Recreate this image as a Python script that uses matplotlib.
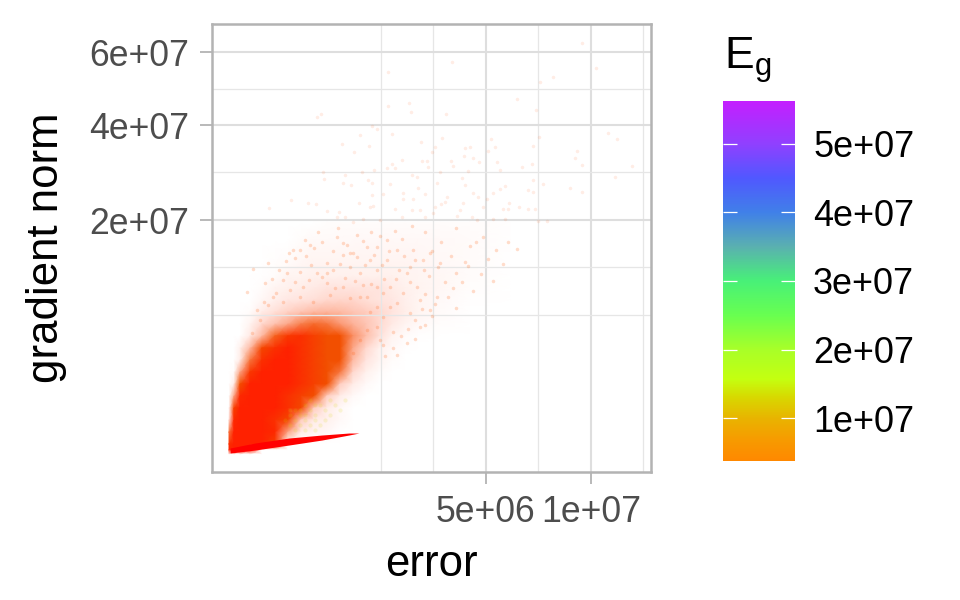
import numpy as np
import matplotlib
matplotlib.use("Agg")
import matplotlib.pyplot as plt
from matplotlib.cm import ScalarMappable
from matplotlib.colors import LinearSegmentedColormap, Normalize


# get data (everything in units of 1e6)
# ----------
x_ticks = [5, 10]
x_tick_labels = ["5e+06", "1e+07"]
x_minor = [1.72, 3.14, 7.28, 13.14]
y_ticks = [20, 40, 60]
y_tick_labels = ["2e+07", "4e+07", "6e+07"]
y_minor = [6.86, 12.6, 29.2, 49.5]
eg_ticks = [10, 20, 30, 40, 50]
eg_tick_labels = ["1e+07", "2e+07", "3e+07", "4e+07", "5e+07"]
eg_min = 3.77
eg_max = 56.2

# colour scale of E_g
eg_stops = [0, 1.2, 3.77, 7, 10, 13, 15.7, 20, 25, 30, 35, 40, 45, 50, 56.2]
eg_colors = ["#ff0000", "#ff2a00", "#ff8800", "#f69c00", "#e8b400", "#d8d800", "#c4ff10",
             "#a8ff28", "#68ff50", "#48f078", "#5ab0b0", "#4080e8", "#5058ff", "#9040ff",
             "#c41fff"]

# how strongly the points pile up in the dense part of the cloud
# 0 = nothing, 5 = almost solid, 6 = solid orange, 9 = solid red
cloud_err = [-0.0009, 0.0002, 0.0045, 0.0241, 0.0681, 0.1411, 0.2404, 0.366, 0.5178,
             0.6959, 0.9004, 1.131, 1.388, 1.671, 1.981, 2.317, 2.68, 3.35, 4.39, 5.99]
cloud_grad = [19.6, 16.7, 13.08, 11.44, 9.91, 8.49, 7.18, 5.98, 4.90, 3.91, 3.04, 2.28, 1.63,
              1.09, 0.654, 0.331, 0.116, 0.0115, -0.0001, -0.0077]
cloud_shade = [
    [0, 0, 0, 0, 0, 0, 0, 0, 0, .2, .3, .3, .3, .3, .3, .3, .3, .3, .3, .1],
    [0, 0, 0, 0, 0, 0, 0, .3, .5, .5, .5, .5, .6, .6, .6, .6, .6, .5, .4, .1],
    [0, 0, 0, 0, 0, .2, .4, .7, 1, 1, 1, 1, 1, 1, 1, 1, .8, .6, .4, 0],
    [0, 0, 0, 0, .1, .3, 1, 1, 1.2, 1.2, 1.2, 1.2, 1.2, 1.2, 1.2, 1, .9, .7, .3, 0],
    [0, 0, 0, 0, .3, 1, 1.2, 1.4, 1.6, 2, 2, 2, 2, 2, 1.5, 1.2, 1, .7, .2, 0],
    [0, 0, 0, 0, .7, 1.3, 1.8, 2, 2.2, 2.5, 2.6, 2.6, 2.2, 2, 1.8, 1.3, .9, .5, .1, 0],
    [0, 0, 0, .3, 1.5, 2.2, 2.8, 3.2, 3.5, 3.6, 3.5, 3.2, 3, 2.5, 2, 1.4, .9, .4, 0, 0],
    [0, 0, 0, 1, 2.5, 3.3, 4, 4.8, 5.3, 5, 4.3, 3.7, 3.2, 2.5, 1.6, 1, .5, .2, 0, 0],
    [0, 0, 0, 1.6, 3.5, 5.5, 7.5, 8, 7, 6, 6, 4.5, 3.4, 2.2, 1, .4, .1, 0, 0, 0],
    [0, 0, 1.2, 3.5, 6.5, 8, 9, 8, 7, 6, 6, 4, 2.5, 1.2, .5, .1, 0, 0, 0, 0],
    [0, 0, 1.5, 5, 8, 9, 9, 8, 7, 6, 6, 3.5, 2, 1, .3, 0, 0, 0, 0, 0],
    [0, .3, 4, 7.5, 9, 9, 9, 8, 7, 6, 5, 2.5, 1.2, .4, 0, 0, 0, 0, 0, 0],
    [0, 1.5, 6, 9, 9, 9, 9, 8, 7, 6, 3, 1.5, .5, 0, 0, 0, 0, 0, 0, 0],
    [0, 4, 8.5, 9, 9, 9, 8, 7, 6, 3, 1.5, .5, 0, 0, 0, 0, 0, 0, 0, 0],
    [.5, 7, 9, 9, 9, 9, 8, 6.5, 3, 1.5, .6, 0, 0, 0, 0, 0, 0, 0, 0, 0],
    [2, 8.5, 9, 9, 9, 8, 6.5, 3, 1.5, 1.2, .5, 0, 0, 0, 0, 0, 0, 0, 0, 0],
    [5, 9, 9, 9, 9, 8.5, 4, 1.5, 1, .6, 0, 0, 0, 0, 0, 0, 0, 0, 0, 0],
    [8, 9, 9, 9, 9, 7, 0, 0, 0, 0, 0, 0, 0, 0, 0, 0, 0, 0, 0, 0],
    [9, 9, 9, 9, 0, 0, 0, 0, 0, 0, 0, 0, 0, 0, 0, 0, 0, 0, 0, 0],
    [0, 0, 0, 0, 0, 0, 0, 0, 0, 0, 0, 0, 0, 0, 0, 0, 0, 0, 0, 0],
]

# thin red wedge along the bottom
wedge_err = [-0.0004, 0.0397, 0.2491, 0.624, 1.057, 1.246]
wedge_top = [0.0009, 0.0161, 0.0503, 0.0799, 0.1034, 0.1034]
wedge_bottom = [-0.0047, -0.0001, 0.0077, 0.0343, 0.0799, 0.1034]

# single points far out of the cloud
far_err = [9.5, 10.3, 3.75, 1.88, 8.0, 7.36, 6.3, 7.17, 1.88, 2.42, 2.48, 3.55, 0.61, 0.56,
           1.51, 1.62, 1.27, 1.98, 3.42, 5.2, 7.31, 11.0, 11.5, 0.93, 1.45, 2.77, 3.19, 4.21,
           4.39, 5.36, 7.03, 1.15, 3.1, 5.09, 9.24, 4.17, 4.5, 9.13, 2.24, 2.8, 2.95, 3.72,
           4.73, 5.45, 6.98, 9.5, 12.4, 1.98, 1.86, 2.06, 2.98, 3.78, 6.52, 1.56, 4.32, 5.57,
           0.64, 1.31, 3.35, 0.99, 0.65, 1.43, 2.51, 2.65, 4.1, 11.4, 7.03, 1.51, 0.95, 1.09,
           1.93, 3.26, 4.21, 7.5, 2.68, 5.78, 5.57, 8.86, 6.8, 9.5, 7.03, 1.51, 1.76, 2.26,
           2.88, 4.5, 5.28, 3.58, 4.69, 2.26, 2.54, 5.04, 0.267, 0.445, 0.544, 1.25, 1.54,
           3.51, 3.38, 4.14, 5.95, 0.104, 1.47, 2.06, 2.51, 2.74, 3.19, 4.88, 6.39, 6.8, 7.12,
           0.696, 0.88, 4.03, 5.69, 5.91, 3.13, 3.92, 0.99, 0.85, 4.47, 2.24, 2.88, 5.78, 7.26,
           7.7, 1.13, 1.33, 1.69, 4.66, 5.28]
far_grad = [62.8, 55.3, 57.1, 54.1, 52.7, 51.3, 46.6, 43.8, 44.8, 45.6, 43.3, 42.8, 42.8, 42.0,
            39.8, 39.0, 37.6, 37.8, 36.9, 36.6, 37.1, 38.1, 36.6, 35.5, 35.0, 35.9, 34.8, 34.5,
            34.8, 34.8, 35.0, 33.6, 33.6, 33.8, 33.8, 32.7, 32.3, 32.3, 31.8, 31.6, 31.6, 31.6,
            31.4, 31.4, 30.9, 30.8, 30.5, 30.9, 30.1, 30.1, 30.3, 30.5, 30.3, 29.7, 29.5, 29.7,
            29.3, 29.3, 29.3, 28.7, 27.8, 27.6, 28.7, 28.2, 28.0, 28.2, 27.6, 27.0, 27.0, 26.6,
            26.8, 27.0, 26.6, 26.8, 26.0, 26.4, 25.8, 26.0, 25.6, 25.2, 25.2, 24.7, 24.9, 25.0,
            24.9, 25.0, 25.0, 24.2, 24.2, 23.9, 23.9, 23.9, 23.7, 23.1, 22.9, 23.1, 22.5,
            23.3, 22.9, 23.1, 23.1, 22.2, 22.3, 22.0, 21.8, 21.8, 22.3, 22.3, 22.3, 22.0, 22.0,
            21.6, 21.4, 21.8, 22.0, 22.0, 21.3, 20.7, 20.5, 20.5, 20.5, 20.5, 20.5, 20.2, 19.8,
            19.8, 19.7, 20.2, 20.0, 20.0, 20.2]

# points on the fringe of the dense part
edge_err = [0.85, 1.13, 0.70, 0.95, 0.355, 0.47, 0.286, 1.41, 1.86, 2.11, 2.83, 2.45, 1.86, 3.04,
            0.099, 0.033, 0.355, 0.56, 0.79, 1.08, 1.27, 1.63, 2.37, 2.65, 3.26, 0.016, 0.083,
            0.20, 0.127, 0.26, 0.39, 0.70, 0.95, 1.33, 1.93, 2.26, 2.74, 3.04, 0.047, 0.099,
            0.20, 0.355, 0.51, 0.74, 1.08, 1.41, 1.76, 2.11, 2.45, 2.74, 2.0, 2.37, 1.76, 2.11,
            0.030, 0.059, 1.63, 1.08, 0.41, 0.57, 0.95, 1.21, 1.63, 2.54, 3.35, 1.47, 0.23, 1.27,
            0.70, 1.63, 1.93, 1.47, 1.76, 1.63, 1.69, 1.41, 1.27, 1.13,
            2.9, 3.4, 3.9, 4.4, 4.9, 5.4, 5.9, 2.5, 3.1, 3.7, 4.2, 4.6, 5.1, 5.7, 6.3, 3.3, 3.9,
            4.3, 4.8, 5.3, 3.0, 3.5, 3.8, 4.1, 4.5, 2.9, 3.2, 3.6, 3.9, 3.1, 2.8, 2.6, 2.9, 2.4,
            2.2, 2.6, 2.0, 1.8, 0.12, 0.17, 0.22, 0.3, 0.15, 0.08, 0.25, 0.42, 0.52, 0.62, 0.78,
            0.87, 1.02, 1.32, 1.5, 1.7, 2.05, 2.25, 0.48, 0.9, 1.2, 1.55, 1.9, 2.3, 2.6, 0.62,
            0.98, 1.36, 1.75, 2.15, 0.3, 0.46, 0.82, 1.17, 1.5, 1.78, 2.08, 2.45, 2.85]
edge_grad = [17.2, 14.7, 13.2, 14.4, 15.1, 15.9, 15.1, 15.6, 16.7, 15.1, 13.6, 12.7, 13.6, 14.7,
             13.2, 12.4, 12.0, 11.8, 12.2, 12.7, 11.8, 12.2, 11.8, 10.0, 8.85, 9.4, 10.5,
             10.9, 8.85, 9.67, 10.0, 10.5, 10.0, 10.3, 10.0, 9.3, 8.49, 7.40, 7.40, 7.93,
             8.27, 8.85, 8.27, 9.07, 8.73, 8.85, 9.3, 8.15, 7.08, 5.70, 5.24, 4.31, 4.15, 3.39,
             5.16, 6.37, 10.0, 14.7, 16.7, 18.0, 16.2, 17.5, 15.6, 15.1, 13.2, 13.6, 11.8, 8.85,
             11.8, 7.70, 7.70, 7.18, 6.67, 5.70, 4.55, 5.43, 4.55, 3.54,
             17.9, 16.3, 18.6, 15.8, 17.1, 15.2, 16.4, 18.9, 15.0, 14.3, 13.4, 16.4, 13.8, 13.1,
             15.3, 12.6, 11.9, 12.8, 11.7, 10.8, 11.4, 10.6, 9.9, 10.7, 9.6, 9.2, 8.1, 8.8, 7.6,
             6.8, 7.5, 6.4, 5.9, 5.5, 4.9, 4.6, 3.9, 3.3, 11.0, 12.3, 13.5, 13.9, 9.3, 8.3, 14.6,
             14.2, 15.4, 16.4, 15.0, 18.6, 15.9, 16.6, 18.0, 17.3, 18.1, 16.9, 12.9, 13.1, 14.1,
             14.4, 14.9, 14.2, 13.6, 11.3, 11.2, 12.9, 12.9, 12.2, 10.6, 10.9, 9.9, 10.8, 10.4,
             11.1, 11.0, 10.6, 12.3]

# pale yellow points in the gap above the wedge
gap_err = [0.215, 0.258, 0.258, 0.305, 0.305, 0.355, 0.355, 0.355, 0.41, 0.41, 0.41, 0.468, 0.468,
           0.53, 0.53, 0.53, 0.596, 0.596, 0.667, 0.667, 0.74, 0.82, 0.90, 0.305, 0.258, 0.41,
           0.468, 0.53, 0.74, 0.985]
gap_grad = [0.33, 0.228, 0.45, 0.144, 0.33, 0.228, 0.45, 0.59, 0.144, 0.33, 0.45, 0.228, 0.59,
            0.144, 0.33, 0.45, 0.228, 0.75, 0.33, 0.59, 0.45, 0.75, 0.59, 0.59, 0.59, 0.75,
            0.93, 0.75, 0.93, 0.93]

# E_g of the point groups
eg_far = 2.2
eg_edge = 2.5
eg_gap = 13
eg_wedge = 0.1


# plot settings
# ----------
def signed_root(v):
    return np.sign(v) * np.sqrt(np.abs(v))


def signed_square(v):
    return np.sign(v) * v**2


plt.rcParams["font.family"] = ["Liberation Sans", "DejaVu Sans"]
plt.rcParams["mathtext.fontset"] = "custom"
plt.rcParams["mathtext.rm"] = "Liberation Sans"
plt.rcParams["mathtext.default"] = "regular"

color_border = "#b3b3b3"
color_grid = "#dedede"
color_tick_text = "#4d4d4d"

eg_cmap = LinearSegmentedColormap.from_list(
    "eg", [(v / eg_stops[-1], c) for v, c in zip(eg_stops, eg_colors)], N=512)
eg_norm = Normalize(0, eg_stops[-1])

# opaque, the cloud sits under the grid lines
shade_cmap = LinearSegmentedColormap.from_list("shade", [
    (0 / 9, (1.0, 1.0, 1.0)),
    (1 / 9, (1.0, 0.955, 0.945)),
    (2 / 9, (1.0, 0.895, 0.87)),
    (3 / 9, (1.0, 0.80, 0.745)),
    (4 / 9, (0.99, 0.65, 0.53)),
    (5 / 9, (0.969, 0.462, 0.243)),
    (6 / 9, (0.95, 0.31, 0.0)),
    (9 / 9, (1.0, 0.13, 0.0)),
], N=512)

fig = plt.figure(figsize=(9.6, 6), dpi=100)
ax = fig.add_axes([212 / 960, 1 - 472 / 600, 439 / 960, 448 / 600])
ax.set_xscale("function", functions=(signed_root, signed_square))
ax.set_yscale("function", functions=(signed_root, signed_square))
ax.set_xlim(-0.0324e6, 13.63e6)
ax.set_ylim(-0.192e6, 68.8e6)

ax.set_xticks(np.array(x_ticks) * 1e6, x_tick_labels)
ax.set_yticks(np.array(y_ticks) * 1e6, y_tick_labels)
ax.set_xticks(np.array(x_minor) * 1e6, minor=True)
ax.set_yticks(np.array(y_minor) * 1e6, minor=True)
ax.grid(True, which="major", color=color_grid, lw=1.5)
ax.grid(True, which="minor", color="#e6e6e6", lw=0.9)
ax.set_axisbelow(True)
ax.tick_params(which="major", length=8.6, width=1.3, color=color_border, pad=8,
               labelsize=25.7, labelcolor=color_tick_text)
ax.tick_params(which="minor", length=0)
for spine in ax.spines.values():
    spine.set_color(color_border)
    spine.set_linewidth(1.8)

ax.set_xlabel("error", fontsize=31.5, va="center")
ax.xaxis.set_label_coords(0.5, -0.207)
ax.set_ylabel("gradient norm", fontsize=31.5, va="center")
ax.yaxis.set_label_coords(-0.376, 0.5)

# cloud
# ----------
ax.pcolormesh(np.array(cloud_err) * 1e6, np.array(cloud_grad) * 1e6, np.array(cloud_shade),
              shading="gouraud", cmap=shade_cmap, vmin=0, vmax=9, zorder=0.4)
ax.fill_between(np.array(wedge_err) * 1e6, np.array(wedge_bottom) * 1e6, np.array(wedge_top) * 1e6,
                color=eg_cmap(eg_norm(eg_wedge)), lw=0, zorder=3)
ax.scatter(np.array(far_err) * 1e6, np.array(far_grad) * 1e6, s=6.5, marker="o", linewidths=0,
           color=eg_cmap(eg_norm(eg_far)), alpha=0.1, zorder=4)
ax.scatter(np.array(edge_err) * 1e6, np.array(edge_grad) * 1e6, s=6.5, marker="o", linewidths=0,
           color=eg_cmap(eg_norm(eg_edge)), alpha=0.2, zorder=4)
ax.scatter(np.array(gap_err) * 1e6, np.array(gap_grad) * 1e6, s=9, marker="o", linewidths=0,
           color=eg_cmap(eg_norm(eg_gap)), alpha=0.14, zorder=4)

# colour bar
# ----------
cax = fig.add_axes([723 / 960, 1 - 461 / 600, 72 / 960, 360 / 600])
cbar = fig.colorbar(ScalarMappable(norm=eg_norm, cmap=eg_cmap), cax=cax)
cax.set_ylim(eg_min, eg_max)
cbar.outline.set_visible(False)
cbar.set_ticks(eg_ticks, labels=eg_tick_labels)
cax.tick_params(which="major", left=True, right=True, direction="in", length=10.4, width=0.9,
                color="white", pad=13, labelsize=25.9, labelcolor="black")
fig.text(724 / 960, 1 - 69 / 600, r"$E_g$", fontsize=32, ha="left", va="baseline")

fig.savefig("out.png", dpi=100)
